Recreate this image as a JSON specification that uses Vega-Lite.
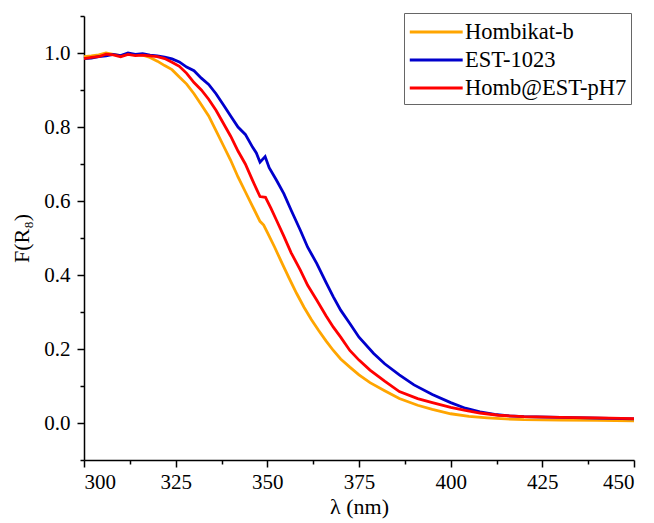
{
  "$schema": "https://vega.github.io/schema/vega-lite/v6.json",
  "autosize": {"type": "none"},
  "padding": {"left": 84, "top": 16, "right": 20, "bottom": 63},
  "width": 550,
  "height": 444,
  "background": "white",
  "config": {
    "font": "'Liberation Serif', 'DejaVu Serif', serif",
    "view": {"stroke": null},
    "axis": {"labelFont": "'Liberation Serif', 'DejaVu Serif', serif", "titleFont": "'Liberation Serif', 'DejaVu Serif', serif", "labelColor": "black", "titleColor": "black", "domainColor": "black", "tickColor": "black", "grid": false, "titleFontWeight": "normal"},
    "legend": {"labelFont": "'Liberation Serif', 'DejaVu Serif', serif"}
  },
  "data": {"values": [
    {"s":"Hombikat-b","x":300,"y":0.99},{"s":"Hombikat-b","x":302,"y":0.992},{"s":"Hombikat-b","x":304,"y":0.995},{"s":"Hombikat-b","x":306,"y":1.0},{"s":"Hombikat-b","x":308,"y":0.996},{"s":"Hombikat-b","x":310,"y":0.993},{"s":"Hombikat-b","x":312,"y":0.997},{"s":"Hombikat-b","x":314,"y":0.995},{"s":"Hombikat-b","x":316,"y":0.994},{"s":"Hombikat-b","x":318,"y":0.988},{"s":"Hombikat-b","x":320,"y":0.978},{"s":"Hombikat-b","x":322,"y":0.966},{"s":"Hombikat-b","x":324,"y":0.955},{"s":"Hombikat-b","x":326,"y":0.935},{"s":"Hombikat-b","x":328,"y":0.916},{"s":"Hombikat-b","x":330,"y":0.89},{"s":"Hombikat-b","x":332,"y":0.86},{"s":"Hombikat-b","x":334,"y":0.83},{"s":"Hombikat-b","x":336,"y":0.79},{"s":"Hombikat-b","x":338,"y":0.75},{"s":"Hombikat-b","x":340,"y":0.71},{"s":"Hombikat-b","x":342,"y":0.665},{"s":"Hombikat-b","x":344,"y":0.625},{"s":"Hombikat-b","x":346,"y":0.585},{"s":"Hombikat-b","x":348,"y":0.545},{"s":"Hombikat-b","x":349,"y":0.535},{"s":"Hombikat-b","x":350,"y":0.515},{"s":"Hombikat-b","x":352,"y":0.475},{"s":"Hombikat-b","x":354,"y":0.432},{"s":"Hombikat-b","x":356,"y":0.39},{"s":"Hombikat-b","x":358,"y":0.35},{"s":"Hombikat-b","x":360,"y":0.313},{"s":"Hombikat-b","x":362,"y":0.28},{"s":"Hombikat-b","x":364,"y":0.25},{"s":"Hombikat-b","x":366,"y":0.222},{"s":"Hombikat-b","x":368,"y":0.196},{"s":"Hombikat-b","x":370,"y":0.173},{"s":"Hombikat-b","x":372.5,"y":0.151},{"s":"Hombikat-b","x":375,"y":0.13},{"s":"Hombikat-b","x":378,"y":0.109},{"s":"Hombikat-b","x":382,"y":0.087},{"s":"Hombikat-b","x":386,"y":0.066},{"s":"Hombikat-b","x":391,"y":0.048},{"s":"Hombikat-b","x":395,"y":0.037},{"s":"Hombikat-b","x":400,"y":0.025},{"s":"Hombikat-b","x":405,"y":0.018},{"s":"Hombikat-b","x":410,"y":0.014},{"s":"Hombikat-b","x":415,"y":0.011},{"s":"Hombikat-b","x":420,"y":0.009},{"s":"Hombikat-b","x":430,"y":0.008},{"s":"Hombikat-b","x":440,"y":0.007},{"s":"Hombikat-b","x":450,"y":0.006},
    {"s":"EST-1023","x":300,"y":0.985},{"s":"EST-1023","x":302,"y":0.986},{"s":"EST-1023","x":304,"y":0.99},{"s":"EST-1023","x":306,"y":0.992},{"s":"EST-1023","x":308,"y":0.996},{"s":"EST-1023","x":310,"y":0.993},{"s":"EST-1023","x":312,"y":1.0},{"s":"EST-1023","x":314,"y":0.996},{"s":"EST-1023","x":316,"y":0.998},{"s":"EST-1023","x":318,"y":0.994},{"s":"EST-1023","x":320,"y":0.992},{"s":"EST-1023","x":322,"y":0.989},{"s":"EST-1023","x":324,"y":0.984},{"s":"EST-1023","x":326,"y":0.976},{"s":"EST-1023","x":328,"y":0.962},{"s":"EST-1023","x":330,"y":0.952},{"s":"EST-1023","x":332,"y":0.932},{"s":"EST-1023","x":334,"y":0.915},{"s":"EST-1023","x":336,"y":0.89},{"s":"EST-1023","x":338,"y":0.86},{"s":"EST-1023","x":340,"y":0.83},{"s":"EST-1023","x":342,"y":0.8},{"s":"EST-1023","x":344,"y":0.78},{"s":"EST-1023","x":346,"y":0.745},{"s":"EST-1023","x":347,"y":0.73},{"s":"EST-1023","x":348,"y":0.705},{"s":"EST-1023","x":349.4,"y":0.72},{"s":"EST-1023","x":350.5,"y":0.69},{"s":"EST-1023","x":352.5,"y":0.656},{"s":"EST-1023","x":354.5,"y":0.62},{"s":"EST-1023","x":356.5,"y":0.575},{"s":"EST-1023","x":359,"y":0.521},{"s":"EST-1023","x":361,"y":0.475},{"s":"EST-1023","x":363.5,"y":0.431},{"s":"EST-1023","x":366,"y":0.38},{"s":"EST-1023","x":368,"y":0.341},{"s":"EST-1023","x":370,"y":0.305},{"s":"EST-1023","x":372.5,"y":0.269},{"s":"EST-1023","x":375,"y":0.232},{"s":"EST-1023","x":379,"y":0.188},{"s":"EST-1023","x":382,"y":0.16},{"s":"EST-1023","x":386,"y":0.13},{"s":"EST-1023","x":390,"y":0.103},{"s":"EST-1023","x":395,"y":0.077},{"s":"EST-1023","x":400,"y":0.055},{"s":"EST-1023","x":404,"y":0.04},{"s":"EST-1023","x":408,"y":0.03},{"s":"EST-1023","x":412,"y":0.023},{"s":"EST-1023","x":416,"y":0.019},{"s":"EST-1023","x":420,"y":0.017},{"s":"EST-1023","x":430,"y":0.015},{"s":"EST-1023","x":440,"y":0.013},{"s":"EST-1023","x":450,"y":0.011},
    {"s":"Homb@EST-pH7","x":300,"y":0.985},{"s":"Homb@EST-pH7","x":302,"y":0.988},{"s":"Homb@EST-pH7","x":304,"y":0.99},{"s":"Homb@EST-pH7","x":306,"y":0.997},{"s":"Homb@EST-pH7","x":308,"y":0.995},{"s":"Homb@EST-pH7","x":310,"y":0.99},{"s":"Homb@EST-pH7","x":312,"y":0.996},{"s":"Homb@EST-pH7","x":314,"y":0.993},{"s":"Homb@EST-pH7","x":316,"y":0.994},{"s":"Homb@EST-pH7","x":318,"y":0.992},{"s":"Homb@EST-pH7","x":320,"y":0.99},{"s":"Homb@EST-pH7","x":322,"y":0.985},{"s":"Homb@EST-pH7","x":324,"y":0.975},{"s":"Homb@EST-pH7","x":326,"y":0.964},{"s":"Homb@EST-pH7","x":328,"y":0.945},{"s":"Homb@EST-pH7","x":330,"y":0.92},{"s":"Homb@EST-pH7","x":332,"y":0.9},{"s":"Homb@EST-pH7","x":334,"y":0.875},{"s":"Homb@EST-pH7","x":336,"y":0.845},{"s":"Homb@EST-pH7","x":338,"y":0.81},{"s":"Homb@EST-pH7","x":340,"y":0.775},{"s":"Homb@EST-pH7","x":342,"y":0.735},{"s":"Homb@EST-pH7","x":344,"y":0.7},{"s":"Homb@EST-pH7","x":346,"y":0.655},{"s":"Homb@EST-pH7","x":348,"y":0.612},{"s":"Homb@EST-pH7","x":349.5,"y":0.61},{"s":"Homb@EST-pH7","x":351,"y":0.58},{"s":"Homb@EST-pH7","x":352.5,"y":0.548},{"s":"Homb@EST-pH7","x":354.4,"y":0.507},{"s":"Homb@EST-pH7","x":356.5,"y":0.46},{"s":"Homb@EST-pH7","x":359,"y":0.413},{"s":"Homb@EST-pH7","x":361,"y":0.372},{"s":"Homb@EST-pH7","x":363.5,"y":0.332},{"s":"Homb@EST-pH7","x":366,"y":0.29},{"s":"Homb@EST-pH7","x":368,"y":0.259},{"s":"Homb@EST-pH7","x":370,"y":0.232},{"s":"Homb@EST-pH7","x":372.5,"y":0.196},{"s":"Homb@EST-pH7","x":375,"y":0.17},{"s":"Homb@EST-pH7","x":378,"y":0.143},{"s":"Homb@EST-pH7","x":382,"y":0.113},{"s":"Homb@EST-pH7","x":386,"y":0.085},{"s":"Homb@EST-pH7","x":391,"y":0.066},{"s":"Homb@EST-pH7","x":395,"y":0.055},{"s":"Homb@EST-pH7","x":400,"y":0.042},{"s":"Homb@EST-pH7","x":404,"y":0.034},{"s":"Homb@EST-pH7","x":408,"y":0.027},{"s":"Homb@EST-pH7","x":413,"y":0.021},{"s":"Homb@EST-pH7","x":420,"y":0.017},{"s":"Homb@EST-pH7","x":430,"y":0.015},{"s":"Homb@EST-pH7","x":440,"y":0.014},{"s":"Homb@EST-pH7","x":450,"y":0.012}
  ]},
  "layer": [
    {
      "mark": {"type": "point", "opacity": 0},
      "encoding": {
        "x": {"field": "x", "type": "quantitative", "scale": {"domain": [300, 450], "nice": false, "zero": false},
          "axis": {"orient": "bottom", "values": [312.5, 337.5, 362.5, 387.5, 412.5, 437.5], "labels": false, "domain": false, "tickSize": 4, "tickWidth": 1.5, "title": null}},
        "y": {"field": "y", "type": "quantitative", "scale": {"domain": [-0.1, 1.1], "nice": false, "zero": false},
          "axis": {"orient": "left", "values": [-0.1, 0.1, 0.3, 0.5, 0.7, 0.9, 1.1], "labels": false, "domain": false, "tickSize": 4, "tickWidth": 1.5, "title": null}}
      }
    },
    {
      "mark": {"type": "line", "strokeWidth": 2.8},
      "encoding": {
        "x": {"field": "x", "type": "quantitative", "scale": {"domain": [300, 450], "nice": false, "zero": false},
          "axis": {"orient": "bottom", "values": [300, 325, 350, 375, 400, 425, 450], "format": "d", "labelFontSize": 21, "labelPadding": 4, "tickSize": 7, "tickWidth": 1.5, "domainWidth": 1.5, "title": "λ (nm)", "titleFontSize": 22, "titlePadding": 4}},
        "y": {"field": "y", "type": "quantitative", "scale": {"domain": [-0.1, 1.1], "nice": false, "zero": false},
          "axis": {"orient": "left", "values": [0, 0.2, 0.4, 0.6, 0.8, 1.0], "format": ".1f", "labelFontSize": 21, "labelPadding": 7, "tickSize": 7, "tickWidth": 1.5, "domainWidth": 1.5, "title": "F(R₈)", "titleFontSize": 22, "titlePadding": 10}},
        "color": {"field": "s", "type": "nominal",
          "scale": {"domain": ["Hombikat-b", "EST-1023", "Homb@EST-pH7"], "range": ["#FFA500", "#0000CC", "#FF0000"]},
          "legend": {"orient": "none", "legendX": 320, "legendY": -3, "title": null, "symbolType": "M-1,0H3", "symbolSize": 700, "symbolStrokeWidth": 3, "labelFont": "'Liberation Serif', 'DejaVu Serif', serif", "labelFontSize": 22.5, "labelColor": "black", "labelOffset": 27, "labelLimit": 0, "padding": 4, "rowPadding": 1, "strokeColor": "#666666", "fillColor": "white"}}
      }
    }
  ],
  "resolve": {"axis": {"x": "independent", "y": "independent"}}
}
